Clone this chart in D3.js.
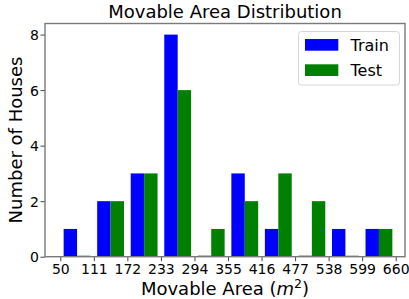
<!DOCTYPE html>
<html><head><meta charset="utf-8">
<script src="https://cdn.jsdelivr.net/npm/d3@7"></script>
<style>body{margin:0;background:#fff}svg{display:block;font-family:"DejaVu Sans",sans-serif}</style>
</head><body><svg id="c" width="409" height="299"></svg>
<script>
const binEdges = [50,111,172,233,294,355,416,477,538,599,660];
const trainCounts = [1,2,3,8,0,3,1,0,1,1];
const testCounts  = [0,2,3,6,1,2,3,2,0,1];
const yTicks = [0,2,4,6,8];
const seriesNames = ["Train","Test"];
const seriesColors = ["#0000ff","#008000"];

const svg = d3.select("#c");
const L=45, R=405, T=23.5, B=256.7;
const x = d3.scaleLinear().domain([22.2,676.9]).range([L,R]);
const y = d3.scaleLinear().domain([0,8.4]).range([B,T]);
const bw = 61;

[trainCounts,testCounts].forEach((vals,si)=>{
  svg.append("g").selectAll("rect").data(vals).join("rect")
    .attr("x",(d,i)=>x(binEdges[i]+bw*(0.1+0.4*si)))
    .attr("width",(d,i)=>x(binEdges[i]+bw*(0.5+0.4*si))-x(binEdges[i]+bw*(0.1+0.4*si)))
    .attr("y",d=>d===0? B-1 : y(d))
    .attr("height",d=>d===0? 1 : B-y(d))
    .attr("fill",seriesColors[si]);
});

// axes
const xa = svg.append("g").attr("transform",`translate(0,${B})`)
  .call(d3.axisBottom(x).tickValues(binEdges).tickSize(4.5).tickPadding(3));
const ya = svg.append("g").attr("transform",`translate(${L},0)`)
  .call(d3.axisLeft(y).tickValues(yTicks).tickSize(4.5).tickPadding(1.5));
[xa,ya].forEach(a=>{
  a.select(".domain").remove();
  a.selectAll(".tick line").attr("stroke","#444").attr("stroke-width",1);
  a.selectAll(".tick text").attr("fill","#000").style("font-size","14px").style("font-family","DejaVu Sans");
});
ya.selectAll(".tick text").attr("dy","0.36em");

// frame
svg.append("rect").attr("x",L).attr("y",T).attr("width",R-L).attr("height",B-T)
  .attr("fill","none").attr("stroke","#7a7a7a").attr("stroke-width",1.4);

// title & labels
svg.append("text").attr("x",(L+R)/2).attr("y",18).attr("text-anchor","middle")
  .style("font-size","18px").text("Movable Area Distribution");
svg.append("text").attr("transform","translate(22,140) rotate(-90)").attr("text-anchor","middle")
  .style("font-size","18px").text("Number of Houses");
const xl = svg.append("text").attr("x",(L+R)/2).attr("y",295).attr("text-anchor","middle")
  .style("font-size","18px");
xl.append("tspan").text("Movable Area (");
xl.append("tspan").attr("font-style","italic").text("m");
xl.append("tspan").attr("dy",-7).style("font-size","12.5px").text("2");
xl.append("tspan").attr("dy",7).text(")");

// legend
const lg = svg.append("g");
lg.append("rect").attr("x",298.5).attr("y",31.5).attr("width",101).attr("height",53.5).attr("rx",3)
  .attr("fill","#fff").attr("fill-opacity",0.8).attr("stroke","#d6d6d6").attr("stroke-width",1);
seriesNames.forEach((n,i)=>{
  lg.append("rect").attr("x",305).attr("y",39+i*25.3).attr("width",33.3).attr("height",11.7).attr("fill",seriesColors[i]);
  lg.append("text").attr("x",350.5).attr("y",45+i*25.3).attr("dy","0.36em").style("font-size","16px").text(n);
});
</script></body></html>
